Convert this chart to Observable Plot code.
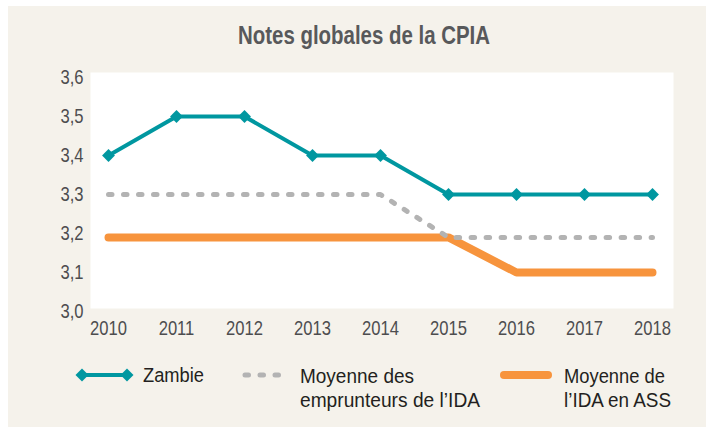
<!DOCTYPE html>
<html>
<head>
<meta charset="utf-8">
<script src="https://cdn.jsdelivr.net/npm/d3@7"></script>
<script src="https://cdn.jsdelivr.net/npm/@observablehq/plot@0.6"></script>
<style>
  html, body { margin: 0; padding: 0; background: #ffffff; }
  #wrap { position: relative; width: 706px; height: 427px; overflow: hidden; }
  #bg { position: absolute; left: 8px; top: 6px; width: 698px; height: 421px; background: #f5f2eb; }
  #chart { position: absolute; left: 0; top: 0; }
  #overlay { position: absolute; left: 0; top: 0; }
</style>
</head>
<body>
<div id="wrap">
  <div id="bg"></div>
  <div id="chart"></div>
  <svg id="overlay" width="706" height="427"></svg>
</div>
<script>
// ---- data ----
const years = [2010, 2011, 2012, 2013, 2014, 2015, 2016, 2017, 2018];
const zambie = [3.4, 3.5, 3.5, 3.4, 3.4, 3.3, 3.3, 3.3, 3.3];
const idaBorrowers = [3.3, 3.3, 3.3, 3.3, 3.3, 3.19, 3.19, 3.19, 3.19];
const idaSSA = [3.19, 3.19, 3.19, 3.19, 3.19, 3.19, 3.1, 3.1, 3.1];
const yTicks = [3.0, 3.1, 3.2, 3.3, 3.4, 3.5, 3.6];
const titleText = "Notes globales de la CPIA";
const seriesNames = ["Zambie", ["Moyenne des", "emprunteurs de l\u2019IDA"], ["Moyenne de", "l\u2019IDA en ASS"]];

const colTeal = "#0097a0";
const colGray = "#b3b3b3";
const colOrange = "#f7943d";

const rows = (vals) => years.map((yr, i) => ({year: yr, value: vals[i]}));

const sans = "'Liberation Sans', Arial, sans-serif";

// condense text glyphs horizontally (reference uses a condensed face)
function condense(node, factor) {
  const len = node.getComputedTextLength();
  node.setAttribute("textLength", (len * factor).toFixed(2));
  node.setAttribute("lengthAdjust", "spacingAndGlyphs");
}

const chart = Plot.plot({
  width: 706,
  height: 345,
  marginLeft: 90,
  marginRight: 33,
  marginTop: 72,
  marginBottom: 34,
  style: {background: "transparent", fontFamily: sans, fontSize: "21px", color: "#4d4d4f", overflow: "visible"},
  x: {domain: [2010, 2018], insetLeft: 18, insetRight: 21},
  y: {domain: [3.0, 3.6], insetTop: 5},
  marks: [
    Plot.frame({fill: "white", stroke: null, insetBottom: 3}),
    Plot.axisY({ticks: yTicks, tickSize: 0, tickPadding: 7, tickFormat: d => d.toFixed(1).replace(".", ","), fontSize: 21, label: null}),
    Plot.axisX({ticks: years, tickSize: 0, tickPadding: 9, tickFormat: d => String(d), fontSize: 21, label: null}),
    Plot.line(rows(idaSSA), {x: "year", y: "value", stroke: colOrange, strokeWidth: 8, strokeLinecap: "round", strokeLinejoin: "round"}),
    Plot.line(rows(idaBorrowers), {x: "year", y: "value", stroke: colGray, strokeWidth: 5, strokeDasharray: "3.5 11.5", strokeLinecap: "round", strokeLinejoin: "round"}),
    Plot.line(rows(zambie), {x: "year", y: "value", stroke: colTeal, strokeWidth: 4, strokeLinejoin: "round"}),
    Plot.dot(rows(zambie), {x: "year", y: "value", symbol: "diamond2", r: 5.8, fill: colTeal, stroke: null})
  ]
});
document.getElementById("chart").appendChild(chart);
chart.querySelectorAll("text").forEach(t => condense(t, 0.79));

// ---- title & legend (overlay) ----
const ov = d3.select("#overlay");
ov.append("text")
  .attr("x", 364).attr("y", 44)
  .attr("text-anchor", "middle")
  .attr("font-family", sans)
  .attr("font-weight", "bold")
  .attr("font-size", 25)
  .attr("fill", "#58595b")
  .attr("textLength", 252).attr("lengthAdjust", "spacingAndGlyphs")
  .text(titleText);

// Zambie glyph
ov.append("line").attr("x1", 82).attr("x2", 127).attr("y1", 375).attr("y2", 375)
  .attr("stroke", colTeal).attr("stroke-width", 4);
[82, 127].forEach(cx => {
  ov.append("path").attr("d", `M${cx},${375 - 6.5}L${cx + 6.5},375L${cx},${375 + 6.5}L${cx - 6.5},375Z`).attr("fill", colTeal);
});
// gray dashes
ov.append("line").attr("x1", 245).attr("x2", 282).attr("y1", 375).attr("y2", 375)
  .attr("stroke", colGray).attr("stroke-width", 5).attr("stroke-linecap", "round").attr("stroke-dasharray", "3.5 11.5");
// orange
ov.append("line").attr("x1", 504).attr("x2", 548).attr("y1", 375).attr("y2", 375)
  .attr("stroke", colOrange).attr("stroke-width", 8).attr("stroke-linecap", "round");

const addLine = (x, y, str, w) => {
  ov.append("text").attr("x", x).attr("y", y)
    .attr("font-family", sans).attr("font-size", 20.5).attr("fill", "#231f20")
    .attr("textLength", w).attr("lengthAdjust", "spacingAndGlyphs")
    .text(str);
};
addLine(143, 382, seriesNames[0], 61);
addLine(300, 383, seriesNames[1][0], 114);
addLine(300, 407, seriesNames[1][1], 180);
addLine(564, 383, seriesNames[2][0], 101);
addLine(564, 407, seriesNames[2][1], 107);
</script>
</body>
</html>
